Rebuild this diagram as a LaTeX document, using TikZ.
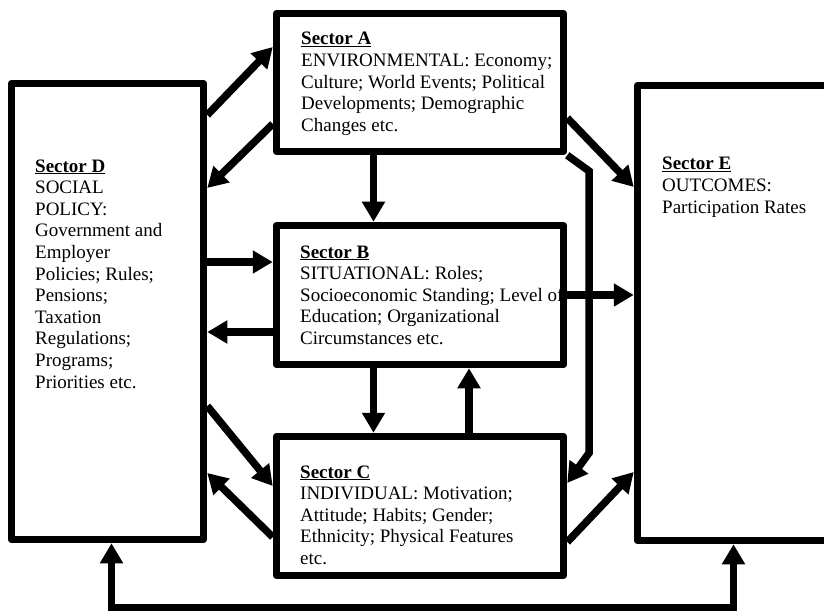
\documentclass[tikz,border=0pt]{standalone}
\usepackage{fontspec}
\setmainfont{Liberation Serif}
\usetikzlibrary{arrows.meta}
\newcommand{\sectorname}[1]{\underline{\textbf{#1}}}
\begin{document}
\begin{tikzpicture}[x=1pt, y=-1pt,
    sector/.style={draw, line width=7.5pt, line join=round, inner sep=0pt},
    txt/.style={anchor=base west, inner sep=0pt, align=left, font=\fontsize{19pt}{21.6pt}\selectfont},
    arr/.style={line width=7.5pt, -{Triangle[width=22pt,length=20pt]}}]
    \useasboundingbox (0,0) rectangle (824,612);
    \node[sector, minimum width=192pt, minimum height=456pt] (D) at (107.5,311.5) {};
    \node[sector, minimum width=287pt, minimum height=138pt] (A) at (420,82.5) {};
    \node[sector, minimum width=287pt, minimum height=139pt] (B) at (420,295) {};
    \node[sector, minimum width=287pt, minimum height=139pt] (C) at (420,506) {};
    \node[sector, minimum width=191pt, minimum height=455pt] (E) at (733,313) {};
    \node[txt] (Atext) at (301,131.4) {\sectorname{Sector A}\\ENVIRONMENTAL: Economy;\\Culture; World Events; Political\\Developments; Demographic\\Changes etc.};
    \node[txt] (Btext) at (300,344.4) {\sectorname{Sector B}\\SITUATIONAL: Roles;\\Socioeconomic Standing; Level of\\Education; Organizational\\Circumstances etc.};
    \node[txt] (Ctext) at (300,564.4) {\sectorname{Sector C}\\INDIVIDUAL: Motivation;\\Attitude; Habits; Gender;\\Ethnicity; Physical Features\\etc.};
    \node[txt] (Dtext) at (35,388) {\sectorname{Sector D}\\SOCIAL\\POLICY:\\Government and\\Employer\\Policies; Rules;\\Pensions;\\Taxation\\Regulations;\\Programs;\\Priorities etc.};
    \node[txt] (Etext) at (662,213.2) {\sectorname{Sector E}\\OUTCOMES:\\Participation Rates};
    \draw[arr] (D.east |- 0,115) -- (A.west |- 0,47);
    \draw[arr] (A.west |- 0,124) -- (D.east |- 0,188);
    \draw[arr] (373.5,0 |- A.south) -- (373.5,0 |- B.north);
    \draw[arr] (D.east |- 0,262) -- (B.west |- 0,262);
    \draw[arr] (B.west |- 0,332) -- (D.east |- 0,332);
    \draw[arr] (373.5,0 |- B.south) -- (373.5,0 |- C.north);
    \draw[arr] (469,0 |- C.north) -- (469,0 |- B.south);
    \draw[arr] (D.east |- 0,406) -- (C.west |- 0,486);
    \draw[arr] (C.west |- 0,537) -- (D.east |- 0,473);
    \draw[arr] (A.east |- 0,118) -- (E.west |- 0,187);
    \draw[arr, line join=miter] (A.south east) -- (589,171) -- (589,453) -- (C.east |- 0,483);
    \draw[arr] (B.east |- 0,295) -- (E.west |- 0,295);
    \draw[arr] (C.east |- 0,542) -- (E.west |- 0,472);
    \draw[arr, {Triangle[width=22pt,length=20pt]}-{Triangle[width=22pt,length=20pt]}, line join=miter]
        (733.5,0 |- E.south) -- (733.5,607.5) -- (111.5,607.5) -- (111.5,0 |- D.south);
\end{tikzpicture}
\end{document}
